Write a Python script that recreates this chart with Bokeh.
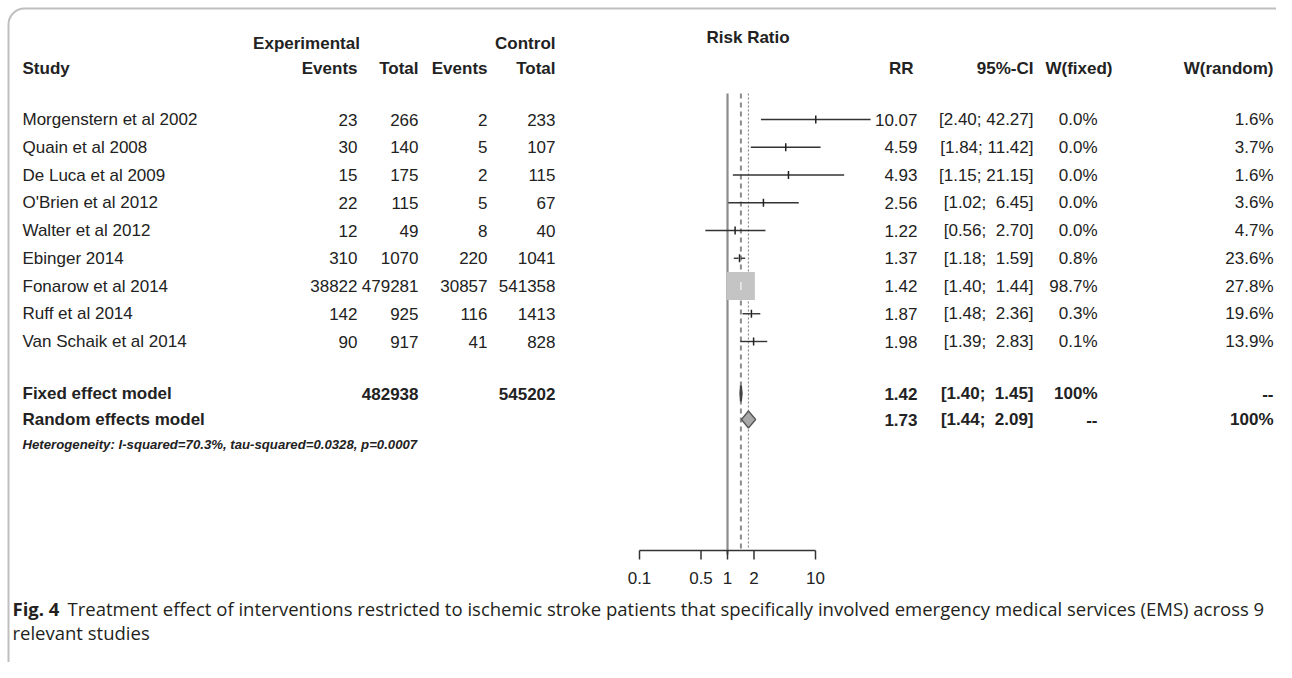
import math
from bokeh.plotting import figure
from bokeh.models import Range1d, LinearScale, BoxAnnotation
from bokeh.core.properties import value
from bokeh.embed import file_html
from bokeh.resources import INLINE

# ---------------- data ----------------
studies = ["Morgenstern et al 2002", "Quain et al 2008", "De Luca et al 2009",
           "O'Brien et al 2012", "Walter et al 2012", "Ebinger 2014",
           "Fonarow et al 2014", "Ruff et al 2014", "Van Schaik et al 2014"]
exp_events = [23, 30, 15, 22, 12, 310, 38822, 142, 90]
exp_total = [266, 140, 175, 115, 49, 1070, 479281, 925, 917]
ctrl_events = [2, 5, 2, 5, 8, 220, 30857, 116, 41]
ctrl_total = [233, 107, 115, 67, 40, 1041, 541358, 1413, 828]
rr = [10.07, 4.59, 4.93, 2.56, 1.22, 1.37, 1.42, 1.87, 1.98]
ci_lo = [2.40, 1.84, 1.15, 1.02, 0.56, 1.18, 1.40, 1.48, 1.39]
ci_hi = [42.27, 11.42, 21.15, 6.45, 2.70, 1.59, 1.44, 2.36, 2.83]
w_fixed = [0.0, 0.0, 0.0, 0.0, 0.0, 0.8, 98.7, 0.3, 0.1]
w_random = [1.6, 3.7, 1.6, 3.6, 4.7, 23.6, 27.8, 19.6, 13.9]

fixed_total_exp = 482938
fixed_total_ctrl = 545202
fixed_rr, fixed_lo, fixed_hi = 1.42, 1.40, 1.45
random_rr, random_lo, random_hi = 1.73, 1.44, 2.09
fixed_w_labels = ["100%", "--"]
random_w_labels = ["--", "100%"]
heterogeneity = "Heterogeneity: I-squared=70.3%, tau-squared=0.0328, p=0.0007"
null_value = 1
ticks = [0.1, 0.5, 1, 2, 10]
tick_labels = ["0.1", "0.5", "1", "2", "10"]
caption_bold = "Fig. 4"
caption_rest = ("Treatment effect of interventions restricted to ischemic stroke patients "
                "that specifically involved emergency medical services (EMS) across 9")
caption_line2 = "relevant studies"

# ---------------- layout ----------------
W, H = 1276, 662

x_one = 727.0   # pixel of RR = 1
dec = 88.0      # pixels per decade
lo = 10 ** (-x_one / dec)
hi = 10 ** ((W - x_one) / dec)

FONT = "Liberation Sans"
CAP_FONT = "Open Sans"
TXT = "#222222"
FS = "17px"

p = figure(width=W, height=H, x_axis_type="log", x_range=Range1d(lo, hi),
           y_range=Range1d(H, 0), output_backend="svg", toolbar_location=None,
           min_border=0, x_axis_location=None, y_axis_location=None)
p.extra_x_ranges = {"px": Range1d(0, W)}
p.extra_x_scales = {"px": LinearScale()}
p.grid.visible = False
p.outline_line_color = None
p.background_fill_color = "white"
p.border_fill_color = "white"

# frame box
p.add_layout(BoxAnnotation(left=8, right=W + 40, top=8, bottom=H + 40,
                           x_range_name="px", fill_alpha=0, line_color="#2a2a2a",
                           line_width=2, border_radius=16))


def txt(xs, ys, texts, align="left", size=FS, style="normal", color=TXT, font=FONT,
        rng="px"):
    kw = dict(x=xs, y=ys, text=texts, text_align=align, text_baseline="middle",
              text_font=value(font), text_font_size=size, text_font_style=style,
              text_color=color)
    if rng:
        kw["x_range_name"] = rng
    p.text(**kw)


n = len(studies)
row_y = [119 + 27.75 * i for i in range(n)]
fixed_y = 393
random_y = 419
het_y = 444
head1_y = 43
head2_y = 68

# column positions (right edges, except names)
c_name = 22
c_ee, c_et, c_ce, c_ct = 357, 418, 487, 555
c_rr, c_ci, c_wf, c_wr = 917, 1033, 1097, 1273

# headers
txt([306], [head1_y], ["Experimental"], align="center", style="bold")
txt([c_ct], [head1_y], ["Control"], align="right", style="bold")
txt([706], [37], ["Risk Ratio"], style="bold")
txt([c_name], [head2_y], ["Study"], style="bold")
txt([c_ee, c_et, c_ce, c_ct], [head2_y] * 4, ["Events", "Total", "Events", "Total"],
    align="right", style="bold")
txt([913, c_ci, 1112, c_wr], [head2_y] * 4,
    ["RR", "95%-CI", "W(fixed)", "W(random)"], align="right", style="bold")


def fmt_ci(a, b):
    s = "[%.2f; %5.2f]" % (a, b)
    return s.replace("  ", "\u00a0\u00a0")


# study rows
txt([c_name] * n, row_y, studies)
txt([c_ee] * n, row_y, [str(v) for v in exp_events], align="right")
txt([c_et] * n, row_y, [str(v) for v in exp_total], align="right")
txt([c_ce] * n, row_y, [str(v) for v in ctrl_events], align="right")
txt([c_ct] * n, row_y, [str(v) for v in ctrl_total], align="right")
txt([c_rr] * n, row_y, ["%.2f" % v for v in rr], align="right")
txt([c_ci] * n, row_y, [fmt_ci(a, b) for a, b in zip(ci_lo, ci_hi)], align="right")
txt([c_wf] * n, row_y, ["%.1f%%" % v for v in w_fixed], align="right")
txt([c_wr] * n, row_y, ["%.1f%%" % v for v in w_random], align="right")

# summary rows
txt([c_name, c_name], [fixed_y, random_y], ["Fixed effect model", "Random effects model"],
    style="bold")
txt([c_et, c_ct], [fixed_y, fixed_y], [str(fixed_total_exp), str(fixed_total_ctrl)],
    align="right", style="bold")
txt([c_rr, c_rr], [fixed_y, random_y], ["%.2f" % fixed_rr, "%.2f" % random_rr],
    align="right", style="bold")
txt([c_ci, c_ci], [fixed_y, random_y],
    [fmt_ci(fixed_lo, fixed_hi), fmt_ci(random_lo, random_hi)], align="right", style="bold")
txt([c_wf, c_wf], [fixed_y, random_y], fixed_w_labels, align="right", style="bold")
txt([c_wr, c_wr], [fixed_y, random_y], random_w_labels, align="right", style="bold")
txt([c_name], [het_y], [heterogeneity], size="13.2px", style="bold italic")

# ---------------- forest ----------------
line_top = 93
axis_y = 550

p.segment(x0=[null_value], y0=[line_top], x1=[null_value], y1=[axis_y + 4],
          line_color="#8c8c8c", line_width=2.2)
p.segment(x0=[fixed_rr], y0=[line_top], x1=[fixed_rr], y1=[axis_y - 2],
          line_color="#8c8c8c", line_width=2, line_dash="5 4")
p.segment(x0=[random_rr], y0=[line_top], x1=[random_rr], y1=[axis_y - 2],
          line_color="#8c8c8c", line_width=1.2, line_dash="2 2")

p.segment(x0=ci_lo, y0=row_y, x1=ci_hi, y1=row_y, line_color="#333333", line_width=1.4)
sizes = [28 * math.sqrt(w / max(w_fixed)) for w in w_fixed]
p.rect(x=rr, y=row_y, width=sizes, height=sizes, width_units="screen",
       height_units="screen", fill_color="#c4c4c4", line_color=None)
tick_cols = ["#eeeeee" if s > 10 else "#222222" for s in sizes]
p.segment(x0=rr, y0=[y - 4 for y in row_y], x1=rr, y1=[y + 4 for y in row_y],
          line_color=tick_cols, line_width=1.5)

# diamonds
p.patches(xs=[[fixed_lo, fixed_rr, fixed_hi, fixed_rr]],
          ys=[[fixed_y, fixed_y - 8, fixed_y, fixed_y + 8]],
          fill_color="#777777", line_color="#444444", line_width=2)
p.patches(xs=[[random_lo, random_rr, random_hi, random_rr]],
          ys=[[random_y, random_y - 8.5, random_y, random_y + 8.5]],
          fill_color="#a8a8a8", line_color="#555555", line_width=1.3)

# axis
p.segment(x0=[min(ticks)], y0=[axis_y], x1=[max(ticks)], y1=[axis_y],
          line_color="#333333", line_width=1.5)
p.segment(x0=ticks, y0=[axis_y] * len(ticks), x1=ticks, y1=[axis_y + 9] * len(ticks),
          line_color="#333333", line_width=1.5)
txt(ticks, [577] * len(ticks), tick_labels, align="center", rng=None)

# caption
txt([12], [608], [caption_bold], font=CAP_FONT, style="bold", color="#231f20", size="18.5px")
txt([67], [608], [caption_rest], font=CAP_FONT, color="#231f20", size="18.5px")
txt([12], [632], [caption_line2], font=CAP_FONT, color="#231f20", size="18.5px")

open("out.html", "w").write(file_html(p, INLINE))
